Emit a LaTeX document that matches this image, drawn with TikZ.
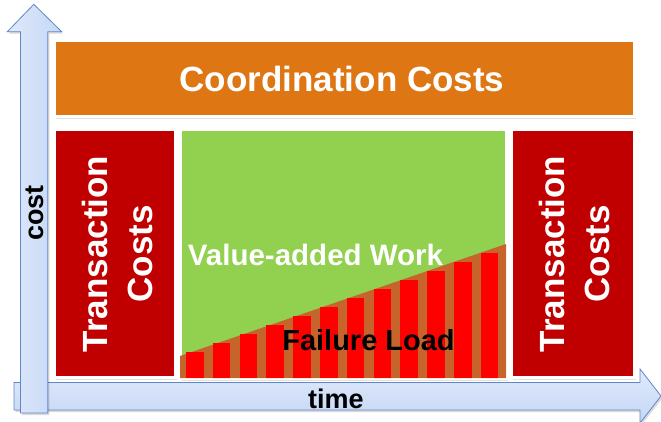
\documentclass[tikz,border=0pt]{standalone}
\usepackage{fontspec}
\setmainfont{Liberation Sans}
\usetikzlibrary{shadows}
\definecolor{coordorange}{RGB}{221,118,19}
\definecolor{transred}{RGB}{192,0,0}
\definecolor{workgreen}{RGB}{146,208,80}
\definecolor{loadbrown}{RGB}{198,100,44}
\definecolor{barred}{RGB}{255,0,0}
\definecolor{arrowfill}{RGB}{196,215,246}
\definecolor{arrowlight}{RGB}{224,233,250}
\definecolor{arrowline}{RGB}{95,135,200}
\tikzset{
  panel/.style={draw=white, line width=3pt,
    drop shadow={shadow xshift=2pt, shadow yshift=-2.5pt, opacity=0.12, fill=black}},
  bigarrow/.style={draw=arrowline, line width=0.8pt, line join=miter,
    drop shadow={shadow xshift=1.5pt, shadow yshift=-2pt, opacity=0.15, fill=black}},
  label/.style={inner sep=0pt, font=\bfseries},
}
\begin{document}
\begin{tikzpicture}[x=1pt,y=-1pt]
\useasboundingbox (0,0) rectangle (661,422);
\begin{scope}
\clip (0,0) rectangle (661,422);
% horizontal axis arrow
\path[bigarrow, top color=arrowlight, bottom color=arrowfill]
  (14,382.5) -- (640,382.5) -- (640,369) -- (661,396) -- (640,423) -- (640,410) -- (14,410) -- cycle;
% vertical axis arrow
\path[bigarrow, left color=arrowlight, right color=arrowfill]
  (20.5,413) -- (20.5,31.7) -- (7.3,31.7) -- (33.8,4.3) -- (61.7,31.7) -- (47.8,31.7) -- (47.8,413) -- cycle;
\end{scope}

% boxes
\path[panel, fill=coordorange] (54,41) rectangle (634,117);
\path[panel, fill=transred] (54,130) rectangle (175,377);
\path[panel, fill=workgreen] (180,130) rectangle (506,378);
\path[panel, fill=transred] (511,130) rectangle (634,377);

% failure load wedge and bars
\begin{scope}
\clip (180,130) rectangle (506,378);
\fill[loadbrown] (180,378) -- (180,356) -- (506,244) -- (506,378) -- cycle;
\foreach \i in {0,...,11}{
  \fill[barred] ({186+26.8*\i},{352-9*\i}) rectangle ({203.5+26.8*\i},378);
}
\end{scope}

% texts
\node[label, text=white, anchor=base, font=\bfseries\fontsize{35}{42}\selectfont] (coord) at (342,92) {Coordination Costs};
\node[label, text=white, anchor=base, font=\bfseries\fontsize{29.5}{35}\selectfont] (work) at (315.5,265) {Value-added Work};
\node[label, text=black, anchor=base, font=\bfseries\fontsize{29}{35}\selectfont] (fail) at (368.5,350) {Failure Load};
\node[label, text=white, rotate=90, align=center, font=\bfseries\fontsize{35}{45}\selectfont] (transL) at (117,254) {Transaction\\Costs};
\node[label, text=white, rotate=90, align=center, font=\bfseries\fontsize{35}{45}\selectfont] (transR) at (574,254) {Transaction\\Costs};
\node[label, text=black, rotate=90, anchor=base, font=\bfseries\fontsize{27}{32}\selectfont] (cost) at (43,213) {cost};
\node[label, text=black, anchor=base, font=\bfseries\fontsize{27}{32}\selectfont] (time) at (336,408) {time};
\end{tikzpicture}
\end{document}
